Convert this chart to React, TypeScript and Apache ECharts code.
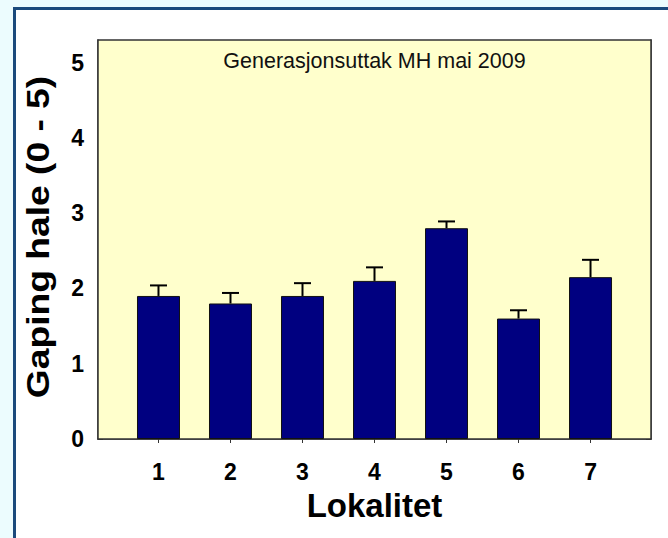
import React, { useEffect, useRef } from "react";
import * as echarts from "echarts";

const localities = [1, 2, 3, 4, 5, 6, 7];
const means = [1.9, 1.8, 1.9, 2.1, 2.8, 1.6, 2.15];
const errors = [0.14, 0.14, 0.17, 0.18, 0.09, 0.11, 0.23];
const yTicks = [0, 1, 2, 3, 4, 5];
const titleText = "Generasjonsuttak MH mai 2009";
const yName = "Gaping hale (0 - 5)";
const xName = "Lokalitet";

const FONT = "'Liberation Sans', Arial, sans-serif";

export default function App() {
  const ref = useRef<HTMLDivElement>(null);
  useEffect(() => {
    if (!ref.current) return;
    const chart = echarts.init(ref.current, undefined, { renderer: "svg" });
    const barData = localities.map((l, i) => [l, means[i]]);
    const errData = localities.map((l, i) => [l, means[i], means[i] + errors[i]]);
    chart.setOption({
      animation: false,
      backgroundColor: "#ecfcfe",
      textStyle: { fontFamily: FONT },
      grid: {
        left: 98,
        top: 40,
        right: 17,
        bottom: 99,
        show: true,
        backgroundColor: "#ffffcc",
        borderColor: "#333333",
        borderWidth: 1.5,
        z: 1,
      },
      graphic: [
        {
          type: "rect",
          z: -10,
          zlevel: 0,
          silent: true,
          shape: { x: 14.5, y: 8.5, width: 700, height: 600 },
          style: { fill: "#ffffff", stroke: "#1b4a7c", lineWidth: 3 },
        },
        {
          type: "text",
          x: 374.5,
          y: 61,
          z: 10,
          style: {
            text: titleText,
            fontFamily: FONT,
            fontSize: 21.5,
            fill: "#111111",
            textAlign: "center",
            textVerticalAlign: "middle",
          },
        },
        {
          type: "text",
          x: 38.5,
          y: 237,
          rotation: Math.PI / 2,
          scaleX: 1.2,
          style: {
            text: yName,
            fontFamily: FONT,
            fontSize: 31,
            fontWeight: "bold",
            fill: "#000000",
            textAlign: "center",
            textVerticalAlign: "middle",
          },
        },
        {
          type: "text",
          x: 374.5,
          y: 505,
          style: {
            text: xName,
            fontFamily: FONT,
            fontSize: 33,
            fontWeight: "bold",
            fill: "#000000",
            textAlign: "center",
            textVerticalAlign: "middle",
          },
        },
      ],
      xAxis: {
        type: "value",
        min: 0.16,
        max: 7.84,
        splitLine: { show: false },
        axisLine: { show: true, lineStyle: { color: "#333333", width: 1.5 } },
        axisTick: {
          show: true,
          inside: false,
          length: 4,
          customValues: localities,
          lineStyle: { color: "#333333" },
        },
        axisLabel: {
          customValues: localities,
          margin: 21,
          fontSize: 23,
          fontWeight: "bold",
          color: "#000000",
          fontFamily: FONT,
        },
      },
      yAxis: [
        {
          type: "value",
          min: 0,
          max: 5.3,
          position: "left",
          splitLine: { show: false },
          axisLine: { show: true, lineStyle: { color: "#333333", width: 1.5 } },
          axisTick: {
            show: true,
            inside: true,
            length: 5,
            customValues: yTicks,
            lineStyle: { color: "#333333" },
          },
          axisLabel: {
            customValues: yTicks,
            margin: 14,
            fontSize: 23,
            fontWeight: "bold",
            color: "#000000",
            fontFamily: FONT,
          },
        },
        {
          type: "value",
          min: 0,
          max: 5.3,
          position: "right",
          splitLine: { show: false },
          axisLine: { show: true, lineStyle: { color: "#333333", width: 1.5 } },
          axisTick: {
            show: true,
            inside: true,
            length: 5,
            customValues: yTicks,
            lineStyle: { color: "#333333" },
          },
          axisLabel: { show: false },
        },
      ],
      series: [
        {
          type: "bar",
          data: barData,
          barWidth: 43,
          itemStyle: { color: "#000080", borderColor: "#111111", borderWidth: 1 },
          z: 2,
        },
        {
          type: "custom",
          data: errData,
          z: 3,
          renderItem: (params: any, api: any) => {
            const x = api.value(0);
            const lo = api.coord([x, api.value(1)]);
            const hi = api.coord([x, api.value(2)]);
            const half = 8.5;
            return {
              type: "group",
              children: [
                {
                  type: "line",
                  shape: { x1: lo[0], y1: lo[1], x2: hi[0], y2: hi[1] },
                  style: { stroke: "#000000", lineWidth: 2 },
                },
                {
                  type: "line",
                  shape: { x1: hi[0] - half, y1: hi[1], x2: hi[0] + half, y2: hi[1] },
                  style: { stroke: "#000000", lineWidth: 2 },
                },
              ],
            };
          },
        },
      ],
    });
    return () => chart.dispose();
  }, []);
  return (
    <div
      ref={ref}
      style={{ position: "fixed", left: 0, top: 0, width: 668, height: 538 }}
    />
  );
}
